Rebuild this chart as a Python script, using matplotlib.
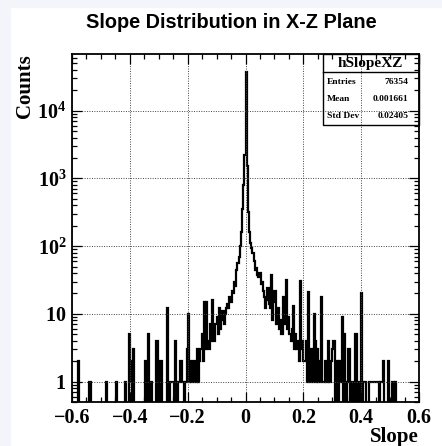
import numpy as np
import matplotlib.pyplot as plt
from matplotlib.ticker import MultipleLocator, LogLocator, NullFormatter
from matplotlib.patches import Rectangle

# histogram contents, 300 bins of 0.004 between -0.6 and 0.6
counts = np.array([
    0, 0, 0, 0, 0, 2, 0, 0, 0, 0, 0, 0, 0, 0, 0, 1, 0, 0, 0, 0,
    0, 0, 0, 0, 0, 0, 0, 0, 0, 1, 0, 0, 0, 0, 0, 0, 0, 0, 1, 0,
    0, 0, 0, 0, 0, 0, 1, 0, 0, 5, 1, 2, 0, 3, 0, 0, 0, 0, 0, 0,
    0, 0, 0, 2, 1, 0, 5, 0, 1, 0, 0, 0, 0, 4, 0, 0, 2, 2, 0, 0,
    0, 0, 12, 0, 0, 1, 1, 1, 0, 4, 1, 0, 1, 2, 2, 1, 1, 0, 1, 3,
    10, 1, 2, 1, 1, 2, 1, 1, 3, 1, 2, 3, 5, 2, 15, 3, 15, 4, 3, 7,
    4, 16, 5, 4, 7, 9, 5, 12, 6, 8, 11, 7, 10, 12, 14, 12, 18, 15, 22, 20,
    30, 26, 45, 56, 70, 100, 160, 350, 800, 2200, 37000, 1500, 320, 160, 110, 95, 80, 60, 45, 47,
    38, 35, 40, 28, 30, 22, 18, 12, 16, 24, 14, 12, 37, 8, 15, 22, 7, 10, 12, 6,
    8, 5, 18, 7, 9, 32, 6, 9, 5, 4, 6, 13, 3, 5, 3, 4, 2, 31, 3, 4,
    2, 2, 4, 1, 21, 2, 1, 3, 1, 10, 4, 1, 3, 1, 2, 18, 1, 1, 1, 2,
    1, 4, 1, 1, 2, 3, 4, 0, 1, 2, 0, 2, 1, 9, 0, 5, 0, 0, 1, 3,
    0, 0, 1, 1, 0, 5, 0, 1, 0, 0, 20, 0, 1, 1, 0, 0, 0, 1, 1, 1,
    1, 1, 1, 1, 1, 0, 1, 1, 1, 2, 0, 0, 0, 2, 0, 0, 0, 1, 0, 1,
    0, 0, 0, 0, 0, 0, 0, 0, 0, 0, 0, 0, 0, 0, 0, 0, 0, 0, 0, 0,
])
x_lo, x_hi = -0.6, 0.6

xtick_vals = [-0.6, -0.4, -0.2, 0, 0.2, 0.4, 0.6]
xtick_labels = ['\u22120.6', '\u22120.4', '\u22120.2', '0', '0.2', '0.4', '0.6']
ytick_vals = [1, 10, 100, 1000, 10000]
ytick_labels = [r'$\mathbf{1}$', r'$\mathbf{10}$', r'$\mathbf{10^{2}}$',
                r'$\mathbf{10^{3}}$', r'$\mathbf{10^{4}}$']

hist_name = "hSlopeXZ"
entries = 76354
mean = 0.001661
std_dev = 0.02405

plt.rcParams['mathtext.fontset'] = 'custom'
plt.rcParams['mathtext.rm'] = 'Liberation Serif:bold'
plt.rcParams['mathtext.bf'] = 'Liberation Serif:bold'
plt.rcParams['mathtext.it'] = 'Liberation Serif:bold:italic'

serif_bold = dict(fontfamily='Liberation Serif', fontweight='bold')

edges = np.linspace(x_lo, x_hi, len(counts) + 1)

fig = plt.figure(figsize=(4.42, 4.46), dpi=100)
fig.patch.set_facecolor('white')
# light canvas border (left and top)
fig.add_artist(Rectangle((0, 0), 10 / 442, 1, transform=fig.transFigure,
                         color='#f4f5fa', zorder=-10))
fig.add_artist(Rectangle((0, 1 - 7 / 446), 1, 7 / 446, transform=fig.transFigure,
                         color='#f4f5fa', zorder=-10))

ax = fig.add_axes([72 / 442, 44 / 446, 347 / 442, 348 / 446])

# zero bins are pushed below the frame so the outline drops to the bottom
draw_counts = np.where(counts > 0, counts, 1e-3)
ax.stairs(draw_counts, edges, baseline=1e-3, color='black', lw=1.6)

ax.set_yscale('log')
ax.set_xlim(x_lo, x_hi)
ax.set_ylim(0.5, 68500)

ax.grid(True, which='major', color='#444444', linestyle=(0, (1, 1.5)), lw=0.7)

ax.set_xticks(xtick_vals)
ax.set_xticklabels(xtick_labels, **serif_bold)
ax.xaxis.set_minor_locator(MultipleLocator(0.05))
ax.set_yticks(ytick_vals)
ax.set_yticklabels(ytick_labels)
ax.yaxis.set_minor_locator(LogLocator(base=10, subs=np.arange(2, 10) * 1.0, numticks=20))
ax.yaxis.set_minor_formatter(NullFormatter())

ax.tick_params(which='both', direction='in', top=True, right=True, width=0.9)
ax.tick_params(which='major', length=7, labelsize=14.5, pad=4)
ax.tick_params(which='minor', length=3.5)
for s in ax.spines.values():
    s.set_linewidth(1.3)

ax.set_xlabel('Slope', loc='right', fontsize=15, **serif_bold)
ax.xaxis.set_label_coords(1.0, -0.072)
ax.set_ylabel('Counts', loc='top', fontsize=15, **serif_bold)
ax.yaxis.set_label_coords(-0.107, 1.0)

fig.text(231 / 442, 1 - 22 / 446, 'Slope Distribution in X-Z Plane', ha='center', va='center',
         fontfamily='Liberation Sans', fontweight='bold', fontsize=14.3)

# stats box
bx0, by0 = 0.7225, 0.796
ax.add_patch(Rectangle((bx0, by0), 1 - bx0, 1 - by0, transform=ax.transAxes,
                       fill=False, edgecolor='black', lw=1, zorder=5, clip_on=False))
ax.plot([bx0, 1], [0.947, 0.947], transform=ax.transAxes, color='black', lw=1, zorder=5)
ax.text(0.860, 0.972, hist_name, transform=ax.transAxes, ha='center', va='center',
        fontsize=11, zorder=6, **serif_bold)
rows = [('Entries', f'{entries}'), ('Mean', f'{mean:.6f}'), ('Std Dev', f'{std_dev:.5f}')]
for (name, val), yy in zip(rows, [0.920, 0.871, 0.822]):
    ax.text(0.7346, yy, name, transform=ax.transAxes, ha='left', va='center',
            fontsize=6.8, zorder=6, **serif_bold)
    ax.text(0.9692, yy, val, transform=ax.transAxes, ha='right', va='center',
            fontsize=6.8, zorder=6, **serif_bold)

fig.savefig('out.png', dpi=100)
